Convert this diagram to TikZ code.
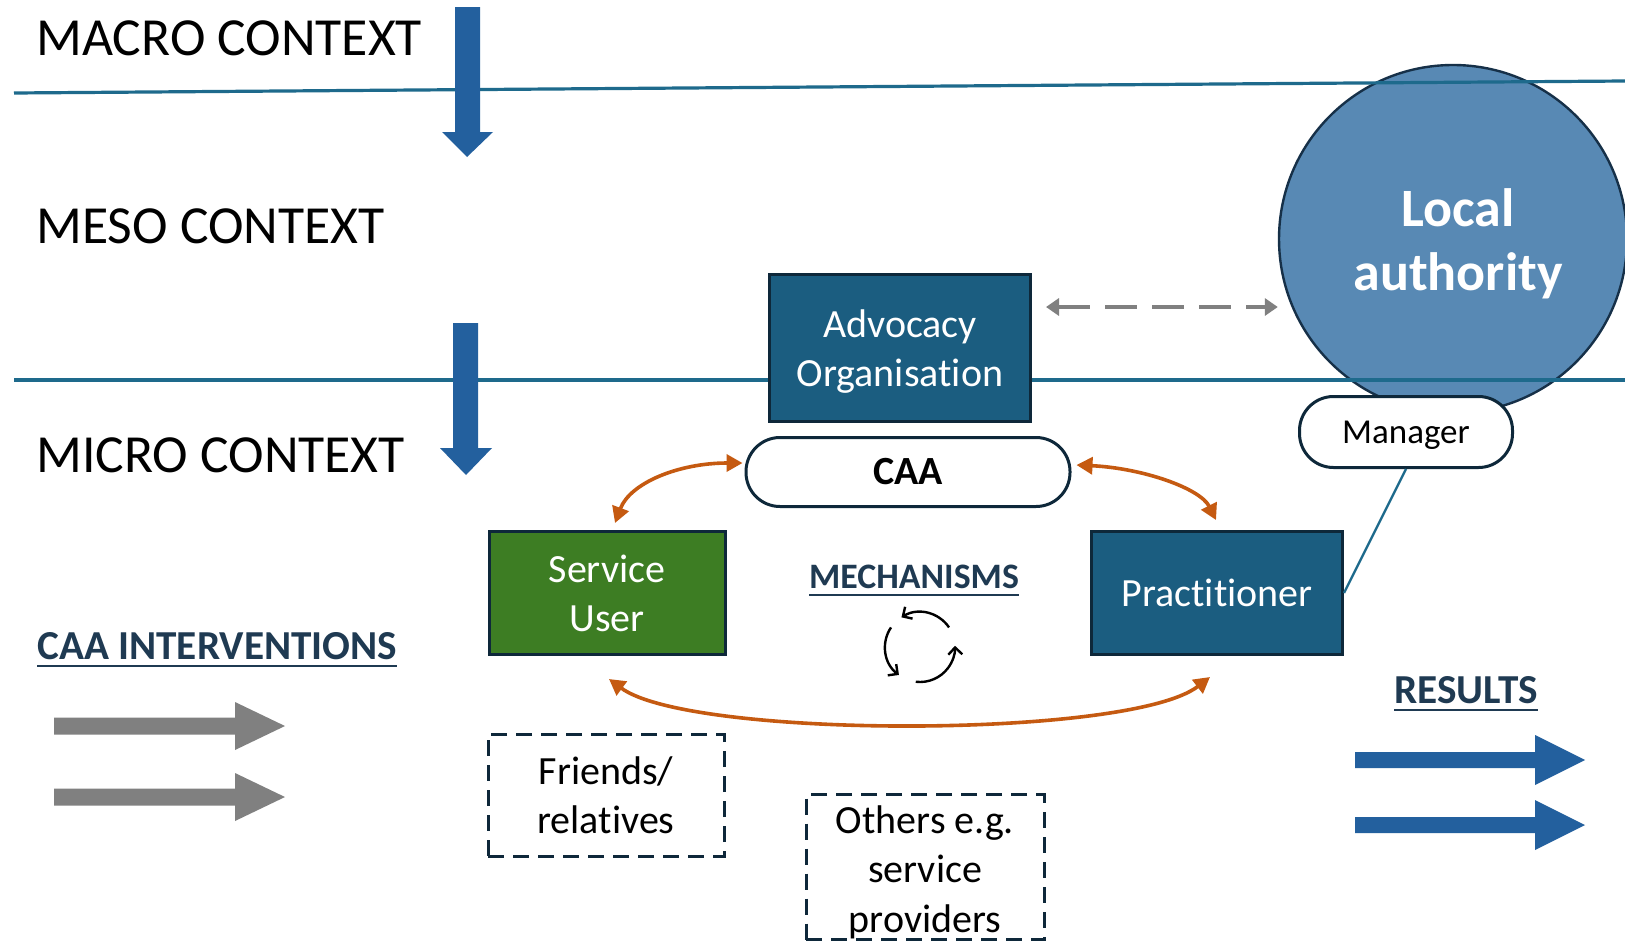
\documentclass[tikz,border=0pt]{standalone}
\usepackage{fontspec}
\setmainfont{Carlito}[Ligatures=NoCommon]
\usetikzlibrary{arrows.meta,calc}

\definecolor{ctxline}{RGB}{30,106,140}
\definecolor{bigblue}{RGB}{35,96,158}
\definecolor{boxteal}{RGB}{27,93,128}
\definecolor{boxedge}{RGB}{14,40,58}
\definecolor{boxgreen}{RGB}{61,125,35}
\definecolor{lafill}{RGB}{88,137,180}
\definecolor{laedge}{RGB}{22,48,72}
\definecolor{linkorange}{RGB}{197,90,17}
\definecolor{midgray}{RGB}{128,128,128}
\definecolor{headnavy}{RGB}{31,58,82}

% text with a thick rule below it
\newcommand{\ulined}[1]{\setbox0=\hbox{#1}\rlap{\copy0}\rule[-4pt]{\wd0}{1.1pt}}

\begin{document}
\begin{tikzpicture}[x=0.5pt,y=-0.5pt,
  ctx/.style={font=\fontsize{26.8}{32}\selectfont, inner sep=0, anchor=base west},
  heading/.style={font=\bfseries, text=headnavy, inner sep=0, anchor=base},
  solidbox/.style={draw=boxedge, line width=1.5pt, text=white, align=center,
    inner sep=0, font=\fontsize{20}{24.5}\selectfont},
  tealbox/.style={solidbox, fill=boxteal},
  greenbox/.style={solidbox, fill=boxgreen},
  dashbox/.style={draw=boxedge, line width=1.5pt, dash pattern=on 8pt off 4.5pt,
    fill=white, align=center, inner sep=0, font=\fontsize{20}{24.75}\selectfont},
  boxtext/.style={align=center, inner sep=0},
  pill/.style={draw=boxedge, line width=1.5pt, fill=white, rounded corners=17pt,
    inner sep=0, align=center},
  link/.style={draw=linkorange, line width=1.8pt,
    {Triangle[length=8pt,width=8.5pt]}-{Triangle[length=8pt,width=8.5pt]}},
  cycarc/.style={line width=1.2pt, -{Straight Barb[length=3.5pt,width=7pt]}},
  layerline/.style={draw=ctxline, line width=1.6pt}]

\useasboundingbox (0,0) rectangle (1625,942);
\fill[white] (0,0) rectangle (1625,942);

% local authority
\node[circle, fill=lafill, draw=laedge, line width=1.2pt, minimum size=174pt] (la)
  at (1453,239) {};
\node[text=white, align=center, inner sep=0,
  font=\bfseries\fontsize{27}{32}\selectfont] (latext) at (1458,244) {Local\\authority};

% layer boundaries
\draw[layerline] (14,93) -- (1625,81);
\draw[layerline] (14,380) -- (1625,380);

% context labels
\node[ctx] (macro) at (36,55) {MACRO CONTEXT};
\node[ctx] (meso) at (36,243) {MESO CONTEXT};
\node[ctx] (micro) at (36,472) {MICRO CONTEXT};

% downward arrows between layers
\fill[bigblue] (455,7) -- (480,7) -- (480,132) -- (493,132) -- (467,157)
  -- (442,132) -- (455,132) -- cycle;
\fill[bigblue] (453,323) -- (478,323) -- (478,448) -- (492,448) -- (466,475)
  -- (440,448) -- (453,448) -- cycle;

% actors
\node[tealbox, minimum width=130.5pt, minimum height=73.5pt] (adv) at (900,348) {};
\node[boxtext, text=white, font=\fontsize{20}{24.5}\selectfont] (advtext)
  at ($(adv)+(0,4)$) {Advocacy\\Organisation};
\node[pill, minimum width=162pt, minimum height=34.5pt,
  font=\bfseries\fontsize{20}{24}\selectfont] (caa) at (908,472) {CAA};
\node[greenbox, minimum width=118pt, minimum height=61.5pt] (su) at (607,593)
  {Service\\User};
\node[tealbox, minimum width=125.5pt, minimum height=61.5pt] (prac) at (1217,593)
  {Practitioner};
\node[pill, minimum width=106.5pt, minimum height=35.5pt, text depth=0pt,
  font=\fontsize{17.5}{20}\selectfont] (mgr) at (1406,432) {Manager};
\node[dashbox, minimum width=118pt, minimum height=61pt] (fr) at (606,795)
  {Friends/\\relatives};
\node[dashbox, minimum width=119pt, minimum height=72.5pt] (oth) at (925,867) {};
\node[boxtext, font=\fontsize{20}{24.75}\selectfont] (othtext)
  at ($(oth)+(0,5)$) {Others e.g.\\service\\providers};

% relations
\draw[midgray, line width=2pt, dash pattern=on 16pt off 7.5pt,
  {Triangle[length=6.5pt,width=8.5pt]}-{Triangle[length=6.5pt,width=8.5pt]}]
  ($(adv.east)+(14,-41)$) -- ($(la.west)+(0,68)$);
\draw[ctxline, line width=1.2pt] (mgr.south) -- (prac.east);
\draw[link] ($(caa.west)+(-2,-9)$) .. controls +(-64,0) and +(15,-40) .. ($(su.north)+(8,-7)$);
\draw[link] ($(caa.east)+(5,-7)$) .. controls +(65,3) and +(-16,-32) .. ($(prac.north)+(-1,-10)$);
\draw[link] ($(su.south)+(2,23)$) .. controls +(81,60) and +(-80,62) .. ($(prac.south)+(-7,21)$);

% mechanisms
\node[heading, font=\bfseries\fontsize{17.9}{21}\selectfont] (mech) at (914,588)
  {\ulined{MECHANISMS}};
\coordinate (cyc) at (920,647);
\draw[cycarc] (cyc) ++(-34:35) arc[start angle=-34, end angle=-122, radius=35];
\draw[cycarc] (cyc) ++(-146:35) arc[start angle=-146, end angle=-233, radius=35];
\draw[cycarc] (cyc) ++(-263:35) arc[start angle=-263, end angle=-362, radius=35];

% interventions
\node[heading, anchor=base west, font=\bfseries\fontsize{20.6}{24}\selectfont] (interv)
  at (37,659) {\ulined{CAA INTERVENTIONS}};
\fill[midgray] (54,717.5) -- (235,717.5) -- (235,702) -- (285,726) -- (235,750)
  -- (235,734.5) -- (54,734.5) -- cycle;
\fill[midgray] (54,788.5) -- (235,788.5) -- (235,773) -- (285,797) -- (235,821)
  -- (235,805.5) -- (54,805.5) -- cycle;

% results
\node[heading, font=\bfseries\fontsize{20.6}{24}\selectfont] (res) at (1466,703)
  {\ulined{RESULTS}};
\fill[bigblue] (1355,752) -- (1535,752) -- (1535,735) -- (1585,760) -- (1535,785)
  -- (1535,768) -- (1355,768) -- cycle;
\fill[bigblue] (1355,817) -- (1535,817) -- (1535,800) -- (1585,825) -- (1535,850)
  -- (1535,833) -- (1355,833) -- cycle;
\end{tikzpicture}
\end{document}
